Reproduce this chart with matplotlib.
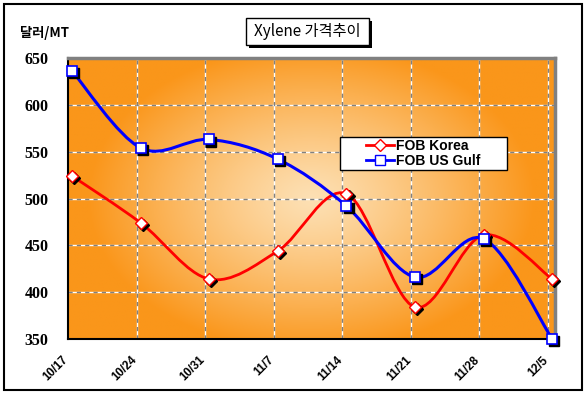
#!/usr/bin/env python3
# Xylene price trend (FOB Korea vs FOB US Gulf), smoothed lines on an orange gradient

import numpy as np
import matplotlib
matplotlib.use("Agg")
import matplotlib.pyplot as plt
import matplotlib.transforms as mtransforms
from matplotlib.path import Path
from matplotlib.patches import PathPatch, Rectangle
from matplotlib.lines import Line2D

# ---- data ----
dates = ["10/17", "10/24", "10/31", "11/7", "11/14", "11/21", "11/28", "12/5"]
fob_korea = [524, 474, 414, 444, 505, 384, 461, 414]
fob_usgulf = [636, 554, 563, 542, 492, 416, 457, 350]
y_ticks = [350, 400, 450, 500, 550, 600, 650]

KOR_COLOR = "#FF0000"
USG_COLOR = "#0000FF"
EDGE_RGB = np.array([250, 150, 26]) / 255.0
CENTER_RGB = np.array([253, 224, 180]) / 255.0


def smooth_path(x, y):
    # Bezier path through the points (Excel-style smoothed line)
    pts = np.column_stack([x, y]).astype(float)
    n = len(pts)
    verts = [pts[0]]
    codes = [Path.MOVETO]
    for i in range(n - 1):
        p0 = pts[i - 1] if i > 0 else pts[i]
        p1 = pts[i]
        p2 = pts[i + 1]
        p3 = pts[i + 2] if i + 2 < n else pts[i + 1]
        c1 = p1 + (p2 - p0) / 6.0
        c2 = p2 - (p3 - p1) / 6.0
        verts += [c1, c2, p2]
        codes += [Path.CURVE4] * 3
    return Path(verts, codes)


def main():
    fig = plt.figure(figsize=(5.86, 3.93), dpi=100)
    ax = fig.add_axes([0.116, 0.1374, 0.831, 0.715])

    xmin, xmax = 0.0, 7.1
    ax.set_xlim(xmin, xmax)
    ax.set_ylim(350, 650)

    # orange radial gradient background
    gx = np.linspace(-1, 1, 300)
    gy = np.linspace(-1, 1, 200)
    GX, GY = np.meshgrid(gx, gy)
    r = np.clip(np.sqrt((GX / 0.92) ** 2 + (GY / 1.1) ** 2), 0, 1)
    t = r ** 1.2
    img = CENTER_RGB[None, None, :] * (1 - t[..., None]) + EDGE_RGB[None, None, :] * t[..., None]
    ax.imshow(img, extent=[xmin, xmax, 350, 650], aspect="auto", zorder=0, origin="lower")

    # grid: white line with grey dashes on top
    for yv in y_ticks[1:-1]:
        ax.axhline(yv, color="white", lw=1.0, zorder=1)
        ax.axhline(yv, color="#808080", lw=1.0, dashes=(3, 3), zorder=1)
    for xv in range(1, len(dates)):
        ax.axvline(xv, color="white", lw=1.0, zorder=1)
        ax.axvline(xv, color="#808080", lw=1.0, dashes=(3, 3), zorder=1)

    x = np.arange(len(dates)) + 0.06

    ax.add_patch(PathPatch(smooth_path(x, fob_korea), facecolor="none",
                           edgecolor=KOR_COLOR, lw=2.0, zorder=3))
    ax.add_patch(PathPatch(smooth_path(x, fob_usgulf), facecolor="none",
                           edgecolor=USG_COLOR, lw=2.2, zorder=3))

    shadow = mtransforms.offset_copy(ax.transData, fig=fig, x=1.5, y=-1.5, units="points")
    ax.plot(x, fob_korea, ls="none", marker="D", ms=6.5, color="black",
            transform=shadow, zorder=4, clip_on=False)
    ax.plot(x, fob_usgulf, ls="none", marker="s", ms=7, color="black",
            transform=shadow, zorder=4, clip_on=False)
    ax.plot(x, fob_korea, ls="none", marker="D", ms=6.5, mfc="white", mec=KOR_COLOR,
            mew=1.0, zorder=5, clip_on=False)
    ax.plot(x, fob_usgulf, ls="none", marker="s", ms=7, mfc="white", mec=USG_COLOR,
            mew=1.2, zorder=5, clip_on=False)

    # spines
    ax.spines["left"].set_color("black")
    ax.spines["left"].set_linewidth(1.5)
    ax.spines["bottom"].set_color("black")
    ax.spines["bottom"].set_linewidth(1.5)
    ax.spines["top"].set_color("#808080")
    ax.spines["top"].set_linewidth(2.5)
    ax.spines["right"].set_color("#808080")
    ax.spines["right"].set_linewidth(2.5)

    ax.set_yticks(y_ticks)
    ax.set_yticklabels([str(v) for v in y_ticks], fontfamily="Liberation Serif",
                       fontweight="bold", fontsize=11.5)
    ax.set_xticks(np.arange(len(dates)))
    ax.set_xticklabels(dates, rotation=45, ha="right", va="top",
                       fontfamily="Liberation Sans", fontweight="bold", fontsize=8.5,
                       rotation_mode="anchor")
    ax.tick_params(axis="y", length=0, pad=14)
    ax.tick_params(axis="x", length=0, pad=10)
    shift = mtransforms.ScaledTranslation(-6 / 100, -1 / 100, fig.dpi_scale_trans)
    for lab in ax.get_xticklabels():
        lab.set_transform(lab.get_transform() + shift)

    # legend: white box drawn separately, entries centred in it
    ax.add_patch(Rectangle((0.5585, 0.601), 0.3425, 0.118, transform=ax.transAxes,
                           facecolor="white", edgecolor="black", lw=1.0, zorder=6))
    handles = [
        Line2D([], [], color=KOR_COLOR, lw=2, marker="D", ms=6, mfc="white", mec=KOR_COLOR),
        Line2D([], [], color=USG_COLOR, lw=2, marker="s", ms=6.5, mfc="white", mec=USG_COLOR),
    ]
    leg = ax.legend(handles, ["FOB Korea", "FOB US Gulf"], loc="center",
                    bbox_to_anchor=(0.7297, 0.660),
                    prop={"family": "Liberation Sans", "weight": "bold", "size": 10},
                    frameon=False, handlelength=2.0, handletextpad=0.15,
                    borderpad=0, labelspacing=0.05, borderaxespad=0)
    leg.set_zorder(7)

    # title box with shadow
    fig.patches.append(Rectangle((249 / 586, 1 - 48 / 393), 123 / 586, 27 / 393,
                                 transform=fig.transFigure, facecolor="black",
                                 edgecolor="none", zorder=1))
    fig.patches.append(Rectangle((246 / 586, 1 - 45 / 393), 123 / 586, 27 / 393,
                                 transform=fig.transFigure, facecolor="white",
                                 edgecolor="black", lw=1.0, zorder=2))
    fig.text(307.5 / 586, 1 - 31.5 / 393, "Xylene 가격추이", ha="center", va="center",
             family=["Noto Sans CJK KR", "DejaVu Sans"], fontweight="medium",
             fontsize=11, zorder=3)

    fig.text(20 / 586, 1 - 33 / 393, "달러/MT", ha="left", va="center",
             family=["Noto Sans CJK KR", "DejaVu Sans"], fontweight="bold", fontsize=9.5)

    # outer frame
    fig.patches.append(Rectangle((4 / 586, 3 / 393), 578 / 586, 386 / 393,
                                 transform=fig.transFigure, facecolor="none",
                                 edgecolor="black", lw=1.5))

    fig.savefig("out.png", dpi=100)
    plt.close("all")


if __name__ == "__main__":
    main()
